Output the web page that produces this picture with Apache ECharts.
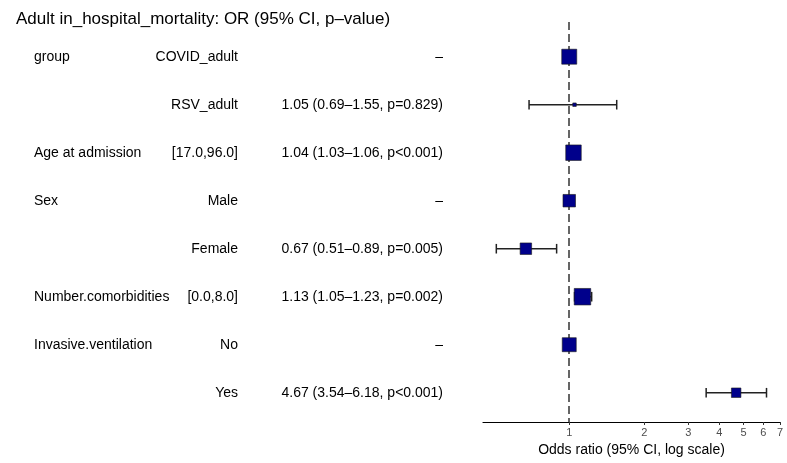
<!DOCTYPE html>
<html>
<head>
<meta charset="utf-8">
<script src="https://cdn.jsdelivr.net/npm/echarts@6/dist/echarts.min.js"></script>
<style>
  html, body { margin: 0; padding: 0; background: #ffffff; }
  #chart { width: 787px; height: 463px; }
</style>
</head>
<body>
<div id="chart"></div>
<script>
// ---- data ----
const titleText = 'Adult in_hospital_mortality: OR (95% CI, p\u2013value)';
const variables = ['group', '', 'Age at admission', 'Sex', '', 'Number.comorbidities', 'Invasive.ventilation', ''];
const levels = ['COVID_adult', 'RSV_adult', '[17.0,96.0]', 'Male', 'Female', '[0.0,8.0]', 'No', 'Yes'];
const oddsRatio = [1, 1.05, 1.04, 1, 0.67, 1.13, 1, 4.67];
const ciLower = [null, 0.69, 1.03, null, 0.51, 1.05, null, 3.54];
const ciUpper = [null, 1.55, 1.06, null, 0.89, 1.23, null, 6.18];
const pValues = ['', 'p=0.829', 'p<0.001', '', 'p=0.005', 'p=0.002', '', 'p<0.001'];
const isReference = [true, false, false, true, false, false, true, false];
// relative weight of each estimate (drives square size)
const weights = [15, 3.5, 15.5, 12.5, 11.5, 16.5, 14, 9.5];
const xTickValues = [1, 2, 3, 4, 5, 6, 7];
const xAxisTitle = 'Odds ratio (95% CI, log scale)';

// ---- derived ----
const rows = levels.map((_, i) => i + 1);
const orLabels = oddsRatio.map((v, i) => isReference[i] ? '\u2013'
  : v.toFixed(2) + ' (' + ciLower[i].toFixed(2) + '\u2013' + ciUpper[i].toFixed(2) + ', ' + pValues[i] + ')');
const pointData = oddsRatio.map((v, i) => ({ value: [v, rows[i]], symbolSize: weights[i] }));
const ciData = [];
oddsRatio.forEach((v, i) => { if (ciLower[i] != null) ciData.push([ciLower[i], ciUpper[i], rows[i]]); });

const FONT = "'Liberation Sans', Arial, Helvetica, sans-serif";
const yMin = 0.277, yMax = 8.61;

function textAxis(labels, offset, align) {
  return {
    type: 'value', gridIndex: 0, position: 'left', offset: offset,
    min: yMin, max: yMax, inverse: true,
    axisLine: { show: false }, axisTick: { show: false }, splitLine: { show: false },
    axisLabel: {
      show: true, customValues: rows, margin: 8, align: align,
      color: '#000', fontSize: 14, fontFamily: FONT,
      formatter: v => labels[Math.round(v) - 1] || ''
    }
  };
}

const chart = echarts.init(document.getElementById('chart'), null, { renderer: 'canvas' });
chart.setOption({
  animation: false,
  backgroundColor: '#ffffff',
  title: {
    text: titleText, left: 11, top: 6,
    textStyle: { fontFamily: FONT, fontSize: 17, fontWeight: 'normal', color: '#000' }
  },
  grid: { left: 483, right: 7, top: 22, bottom: 41, containLabel: false },
  xAxis: {
    type: 'log', min: 0.451, max: 7, logBase: 10,
    axisLine: { show: true, lineStyle: { color: '#000', width: 1.2 } },
    axisTick: { show: true, customValues: xTickValues, length: 3, lineStyle: { color: '#333', width: 1 } },
    minorTick: { show: false },
    splitLine: { show: false },
    axisLabel: { customValues: xTickValues, color: '#4d4d4d', fontSize: 11, margin: 5, fontFamily: FONT,
      formatter: v => String(Math.round(v)) },
    name: xAxisTitle, nameLocation: 'middle', nameGap: 15,
    nameTextStyle: { fontFamily: FONT, fontSize: 14, color: '#000' }
  },
  yAxis: [
    { type: 'value', gridIndex: 0, min: yMin, max: yMax, inverse: true,
      axisLine: { show: false }, axisTick: { show: false }, axisLabel: { show: false }, splitLine: { show: false } },
    textAxis(variables, 441, 'left'),
    textAxis(levels, 237, 'right'),
    textAxis(orLabels, 32, 'right')
  ],
  series: [
    {
      type: 'line', name: 'ref', yAxisIndex: 0, z: 1, data: [],
      markLine: {
        silent: true, symbol: 'none', label: { show: false }, z: 1,
        lineStyle: { color: '#333', width: 1.5, type: [8, 4] },
        data: [{ xAxis: 1 }]
      }
    },
    {
      type: 'custom', name: 'ci', yAxisIndex: 0, z: 2,
      encode: { x: [0, 1], y: 2 },
      data: ciData,
      renderItem: function (params, api) {
        const y = api.value(2);
        const p1 = api.coord([api.value(0), y]);
        const p2 = api.coord([api.value(1), y]);
        const top = api.coord([api.value(0), y - 0.1])[1];
        const bot = api.coord([api.value(0), y + 0.1])[1];
        const st = { stroke: '#222', lineWidth: 1.5 };
        return {
          type: 'group',
          children: [
            { type: 'line', shape: { x1: p1[0], y1: p1[1], x2: p2[0], y2: p2[1] }, style: st },
            { type: 'line', shape: { x1: p1[0], y1: top, x2: p1[0], y2: bot }, style: st },
            { type: 'line', shape: { x1: p2[0], y1: top, x2: p2[0], y2: bot }, style: st }
          ]
        };
      }
    },
    {
      type: 'scatter', name: 'or', yAxisIndex: 0, z: 3,
      symbol: 'rect',
      data: pointData,
      itemStyle: { color: '#00008B', borderColor: '#1a1a1a', borderWidth: 0.6, opacity: 1 }
    }
  ]
});
</script>
</body>
</html>
